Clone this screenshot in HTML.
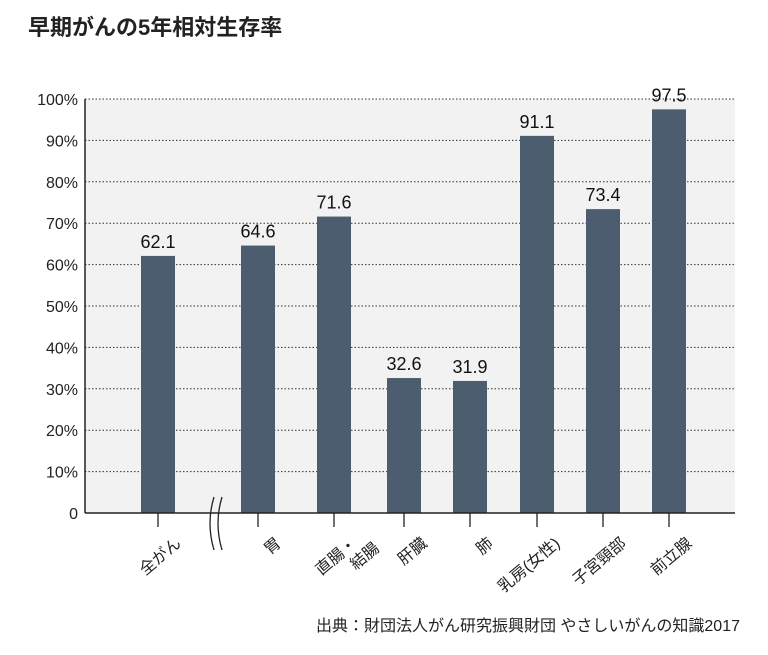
<!DOCTYPE html>
<html><head><meta charset="utf-8"><style>
body{margin:0;background:#fff;}
svg{display:block;font-family:"Liberation Sans","Noto Sans CJK JP",sans-serif;}
</style></head><body>
<svg width="768" height="655">
<text x="28" y="35" font-size="22" font-weight="bold" fill="#222">早期がんの5年相対生存率</text>
<rect x="85" y="99" width="650" height="414" fill="#f2f2f2"/>
<g id="grid"></g><g id="bars"></g><g id="labels"></g>
<line x1="85" y1="99" x2="85" y2="513" stroke="#222" stroke-width="1.5"/>
<line x1="85" y1="513" x2="735" y2="513" stroke="#222" stroke-width="1.5"/>
<path d="M214 497 Q206 523 214 550 M222 497 Q214 523 222 550" fill="none" stroke="#222" stroke-width="1.3"/>
<text x="740" y="631" font-size="16" text-anchor="end" fill="#222">出典：財団法人がん研究振興財団 やさしいがんの知識2017</text>
</svg>
<script>
const categories=[["全がん"],["胃"],["直腸・","結腸"],["肝臓"],["肺"],["乳房(女性)"],["子宮頸部"],["前立腺"]];
const values=[62.1,64.6,71.6,32.6,31.9,91.1,73.4,97.5];
const valueLabels=["62.1","64.6","71.6","32.6","31.9","91.1","73.4","97.5"];
const yTicks=[0,10,20,30,40,50,60,70,80,90,100];
const centers=[158,258,334,404,470,537,603,669];
const NS="http://www.w3.org/2000/svg";
const y=v=>513-v*4.14;
function mk(t,a,p){const e=document.createElementNS(NS,t);for(const k in a)e.setAttribute(k,a[k]);p.appendChild(e);return e;}
const grid=document.getElementById('grid'),bars=document.getElementById('bars'),labels=document.getElementById('labels');
yTicks.forEach(t=>{
  if(t>0){const l=mk('line',{x1:85,x2:735,y1:y(t),y2:y(t),stroke:'#333','stroke-dasharray':'1.5,2','stroke-width':1},grid);
  
  }
  const tx=mk('text',{x:78,y:y(t)+6,'font-size':16,'text-anchor':'end',fill:'#222'},grid);
  tx.textContent=t===0?'0':t+'%';
  
  
});
values.forEach((v,i)=>{
  const cx=centers[i];
  const r=mk('rect',{x:cx-17,y:y(v),width:34,height:513-y(v),fill:'#4b5d6e'},bars);
  
  
  const vt=mk('text',{x:cx,y:y(v)-8,'font-size':18,'text-anchor':'middle',fill:'#111'},bars);
  vt.textContent=valueLabels[i];
  
  
  const tk=mk('line',{x1:cx,x2:cx,y1:513,y2:527,stroke:'#222','stroke-width':1.3},labels);
  
  
  const g=mk('g',{transform:`translate(${cx+24},545) rotate(-40)`},labels);
  
  
  categories[i].forEach((s,j)=>{
    const t=mk('text',{x:j*14,y:j*18,'font-size':16,'text-anchor':'end',fill:'#222'},g);
    t.textContent=s;
  });
});
</script>
</body></html>
